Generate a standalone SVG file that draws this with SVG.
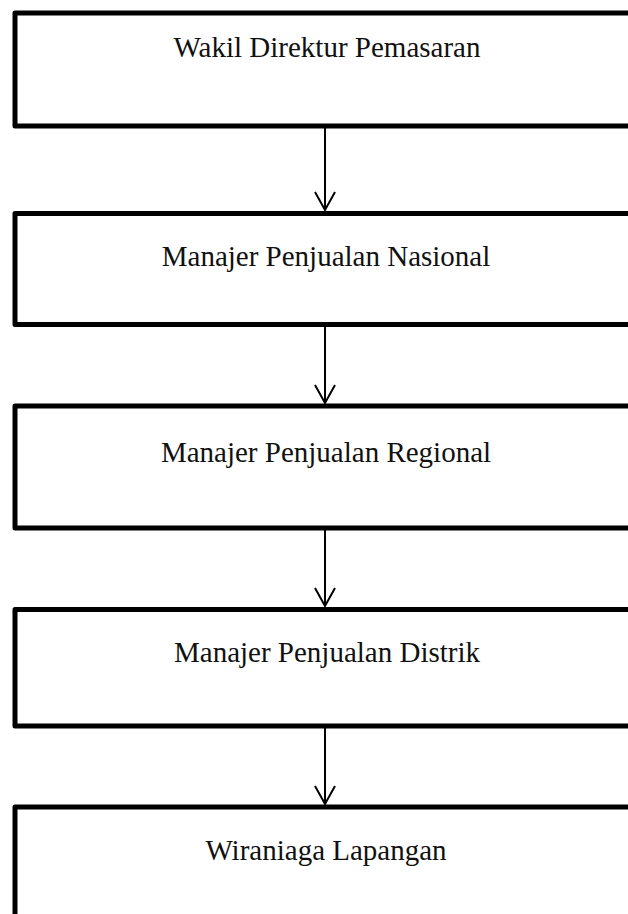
<svg xmlns="http://www.w3.org/2000/svg" width="628" height="914" viewBox="0 0 628 914">
  <style>
    .box { fill: none; stroke: #000; stroke-width: 5; stroke-linejoin: round; }
    .lbl { font-family: "Liberation Serif", "Times New Roman", serif; font-size: 29px; fill: #111; text-anchor: middle; }
    .conn { stroke: #000; stroke-width: 2; fill: none; marker-end: url(#arr); }
  </style>
  <defs>
    <marker id="arr" markerUnits="userSpaceOnUse" markerWidth="20" markerHeight="20" refX="0" refY="0" orient="auto" overflow="visible">
      <path d="M-18,-10 L0,0 L-18,10" fill="none" stroke="#000" stroke-width="2"/>
    </marker>
  </defs>
  <rect width="628" height="914" fill="#fff"/>
  <g id="connectors">
    <line class="conn" x1="325" y1="128" x2="325" y2="210"/>
    <line class="conn" x1="325" y1="327" x2="325" y2="403"/>
    <line class="conn" x1="325" y1="530" x2="325" y2="606"/>
    <line class="conn" x1="325" y1="728" x2="325" y2="804"/>
  </g>
  <g id="n1">
    <rect class="box" x="15" y="13" width="640" height="113"/>
    <text class="lbl" x="327" y="57">Wakil Direktur Pemasaran</text>
  </g>
  <g id="n2">
    <rect class="box" x="15" y="213.5" width="640" height="111"/>
    <text class="lbl" x="326" y="266">Manajer Penjualan Nasional</text>
  </g>
  <g id="n3">
    <rect class="box" x="15" y="406" width="640" height="122"/>
    <text class="lbl" x="326" y="462">Manajer Penjualan Regional</text>
  </g>
  <g id="n4">
    <rect class="box" x="15" y="609.5" width="640" height="116.5"/>
    <text class="lbl" x="327" y="662">Manajer Penjualan Distrik</text>
  </g>
  <g id="n5">
    <rect class="box" x="15" y="807" width="640" height="140"/>
    <text class="lbl" x="326" y="860">Wiraniaga Lapangan</text>
  </g>
</svg>
